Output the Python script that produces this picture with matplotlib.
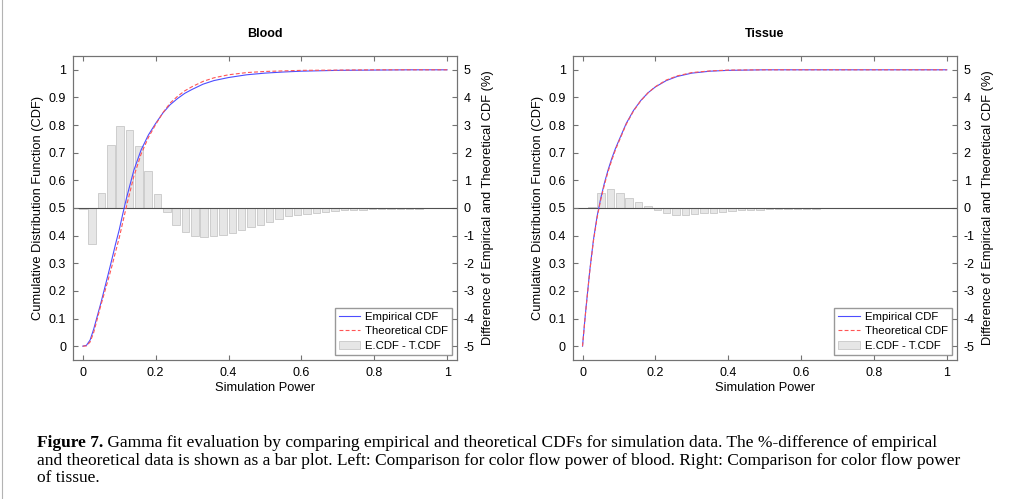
import numpy as np
import matplotlib.pyplot as plt
from matplotlib.lines import Line2D

plt.rcParams['font.family'] = 'Liberation Sans'
plt.rcParams['axes.unicode_minus'] = False

# bar bins (40 bins over the power range 0..1)
bin_centers = np.linspace(0, 1, 40)

# %-difference E.CDF - T.CDF
blood_diff = [-0.05, -1.30, 0.55, 2.28, 2.95, 2.83, 2.25, 1.35, 0.49, -0.14,
              -0.63, -0.87, -1.02, -1.06, -1.02, -0.99, -0.92, -0.81, -0.69, -0.61,
              -0.52, -0.40, -0.30, -0.27, -0.20, -0.17, -0.13, -0.11, -0.08, -0.07,
              -0.06, -0.05, -0.04, -0.03, -0.03, -0.02, -0.02, -0.01, -0.01, 0.0]
tissue_diff = [0.0, 0.03, 0.53, 0.67, 0.53, 0.35, 0.20, 0.08, -0.07, -0.19,
               -0.26, -0.26, -0.21, -0.19, -0.18, -0.14, -0.12, -0.08, -0.07, -0.06,
               -0.05, -0.04, -0.03, -0.03, -0.02, -0.02, -0.01, -0.01, -0.01, 0.0,
               0.0, 0.0, 0.0, 0.0, 0.0, 0.0, 0.0, 0.0, 0.0, 0.0]

# CDF curves
blood_x = [0.0, 0.01, 0.02, 0.03, 0.04, 0.05, 0.06, 0.07, 0.08, 0.09, 0.10, 0.11,
           0.12, 0.14, 0.16, 0.18, 0.20, 0.22, 0.24, 0.26, 0.28, 0.30, 0.33, 0.36,
           0.40, 0.45, 0.50, 0.55, 0.60, 0.70, 0.80, 0.90, 1.0]
blood_emp = [0.0, 0.003, 0.022, 0.062, 0.11, 0.158, 0.21, 0.262, 0.315, 0.37, 0.421, 0.48,
             0.536, 0.636, 0.71, 0.764, 0.806, 0.844, 0.874, 0.896, 0.915, 0.929, 0.948, 0.961,
             0.972, 0.982, 0.988, 0.992, 0.995, 0.998, 0.999, 1.0, 1.0]
blood_theo = [0.0, 0.001, 0.015, 0.05, 0.10, 0.15, 0.196, 0.242, 0.29, 0.342, 0.392, 0.45,
              0.507, 0.614, 0.695, 0.755, 0.802, 0.845, 0.88, 0.904, 0.924, 0.939, 0.958, 0.971,
              0.982, 0.99, 0.994, 0.996, 0.998, 0.999, 1.0, 1.0, 1.0]

tissue_x = [0.0, 0.005, 0.01, 0.02, 0.03, 0.04, 0.05, 0.06, 0.07, 0.08, 0.09, 0.10, 0.12,
            0.14, 0.16, 0.18, 0.20, 0.23, 0.26, 0.30, 0.35, 0.40, 0.50, 0.60, 0.80, 1.0]
tissue_emp = [0.0, 0.075, 0.145, 0.275, 0.385, 0.47, 0.535, 0.59, 0.637, 0.678, 0.714, 0.745, 0.806,
              0.853, 0.889, 0.917, 0.938, 0.961, 0.976, 0.988, 0.995, 0.998, 1.0, 1.0, 1.0, 1.0]
tissue_theo = [0.0, 0.074, 0.143, 0.272, 0.381, 0.465, 0.53, 0.584, 0.631, 0.672, 0.709, 0.741, 0.803,
               0.851, 0.888, 0.917, 0.939, 0.963, 0.978, 0.99, 0.996, 0.999, 1.0, 1.0, 1.0, 1.0]

xticks = [0, 0.2, 0.4, 0.6, 0.8, 1]
xtick_labels = ['0', '0.2', '0.4', '0.6', '0.8', '1']
yticks = [0, 0.1, 0.2, 0.3, 0.4, 0.5, 0.6, 0.7, 0.8, 0.9, 1]
ytick_labels = ['0', '0.1', '0.2', '0.3', '0.4', '0.5', '0.6', '0.7', '0.8', '0.9', '1']
y2ticks = [-5, -4, -3, -2, -1, 0, 1, 2, 3, 4, 5]

fig = plt.figure(figsize=(10.12, 4.99), dpi=100)

frame_col = '0.45'


def draw_panel(rect, title, x, emp, theo, diff):
    ax = fig.add_axes(rect)
    ax2 = ax.twinx()

    bars = ax2.bar(bin_centers, diff, width=0.8 / 39, color='#e6e6e6',
                   edgecolor='#c8c8c8', linewidth=0.6)
    ax2.axhline(0, color='#505050', lw=0.8)
    l1, = ax.plot(x, emp, color='#4d4dff', lw=0.8)
    l2, = ax.plot(x, theo, color='#ff5555', lw=0.8, ls=(0, (3.5, 2)))

    ax.set_zorder(ax2.get_zorder() + 1)
    ax.patch.set_visible(False)

    ax.set_xlim(-0.027, 1.027)
    ax.set_ylim(-0.05, 1.05)
    ax2.set_ylim(-5.5, 5.5)
    ax.set_xticks(xticks)
    ax.set_xticklabels(xtick_labels)
    ax.set_yticks(yticks)
    ax.set_yticklabels(ytick_labels)
    ax2.set_yticks(y2ticks)

    ax.tick_params(direction='in', top=True, length=3.5, color=frame_col,
                   labelsize=9, pad=5)
    ax2.tick_params(direction='in', length=3.5, color=frame_col,
                    labelsize=9, pad=5)
    for a in (ax, ax2):
        for s in a.spines.values():
            s.set_color(frame_col)
            s.set_linewidth(0.8)

    ax.set_title(title, fontsize=9, fontweight='bold', pad=14)
    ax.set_xlabel('Simulation Power', fontsize=9.3, labelpad=2)
    ax.set_ylabel('Cumulative Distribution Function (CDF)', fontsize=9.3, labelpad=3)
    ax2.set_ylabel('Difference of Empirical and Theoretical CDF (%)', fontsize=9.3,
                   labelpad=5)

    ax.legend([l1, l2, bars], ['Empirical CDF', 'Theoretical CDF', 'E.CDF - T.CDF'],
              loc='lower right', fontsize=8.2, frameon=True, fancybox=False,
              edgecolor='0.5', handlelength=1.9, handletextpad=0.4,
              borderaxespad=0.45, labelspacing=0.4, borderpad=0.35)
    return ax


draw_panel([0.0721, 0.2786, 0.3794, 0.6092], 'Blood', blood_x, blood_emp, blood_theo, blood_diff)
draw_panel([0.5659, 0.2786, 0.3794, 0.6092], 'Tissue', tissue_x, tissue_emp, tissue_theo, tissue_diff)

# caption
cap = fig.add_axes([0, 0, 1, 1], zorder=-5)
cap.axis('off')
cap_font = 'Liberation Serif'
cap_size = 12.5
t1 = cap.text(0.0366, 0.104, 'Figure 7.', fontsize=cap_size, fontweight='bold',
              family=cap_font, va='baseline')
cap.annotate(' Gamma fit evaluation by comparing empirical and theoretical CDFs for simulation data. '
             'The %-difference of empirical',
             xy=(1, 0), xycoords=t1, va='bottom', ha='left', fontsize=cap_size, family=cap_font)
cap.text(0.0366, 0.068, 'and theoretical data is shown as a bar plot. Left: Comparison for color '
         'flow power of blood. Right: Comparison for color flow power',
         fontsize=cap_size, family=cap_font, va='baseline')
cap.text(0.0366, 0.034, 'of tissue.', fontsize=cap_size, family=cap_font, va='baseline')
cap.add_artist(Line2D([0.002, 0.002], [0, 1], color='0.7', lw=0.8))

fig.savefig('out.png', dpi=100)
